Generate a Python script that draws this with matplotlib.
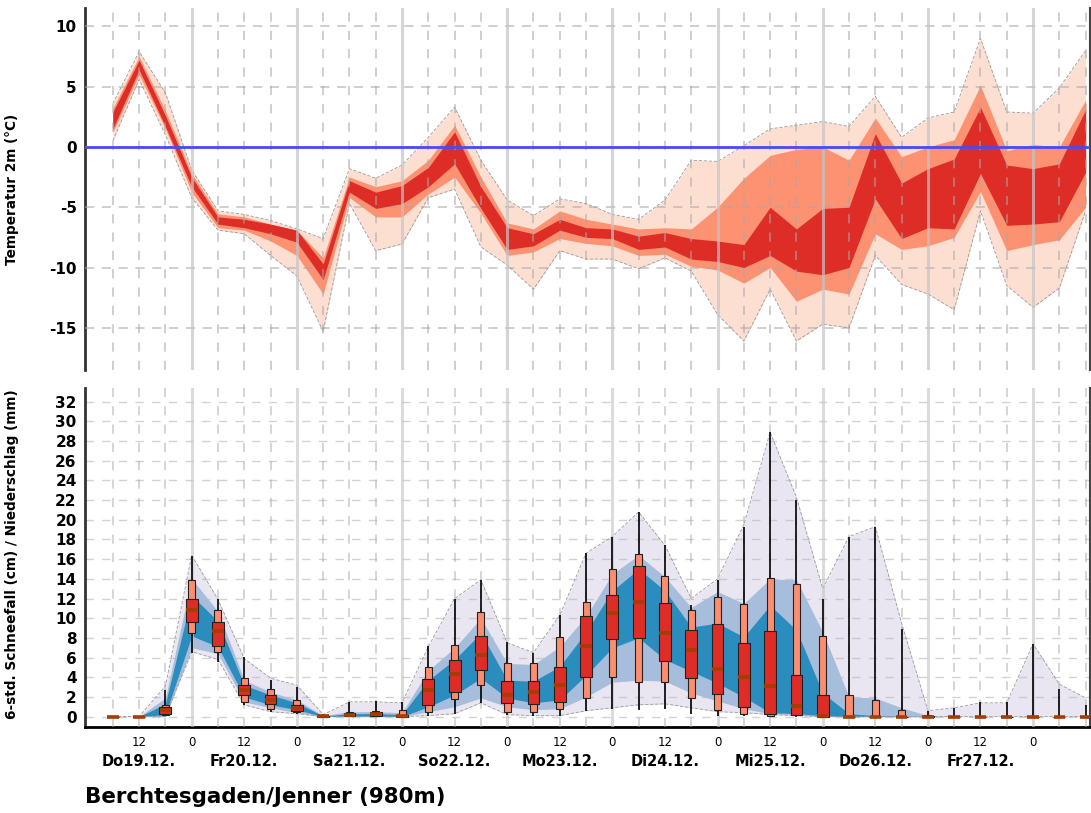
import matplotlib
matplotlib.use("Agg")
import matplotlib.pyplot as plt
import numpy as np

plt.rcParams['font.family'] = ['DejaVu Sans']
plt.rcParams['axes.unicode_minus'] = False

# time axis: hours after Do19.12. 00 UTC, every 6 h
hours = np.array([6, 12, 18, 24, 30, 36, 42, 48, 54, 60, 66, 72, 78, 84, 90, 96,
                  102, 108, 114, 120, 126, 132, 138, 144, 150, 156, 162, 168,
                  174, 180, 186, 192, 198, 204, 210, 216, 222, 228])

# temperature 2m ensemble bands (deg C)
t_light_lo = [0.5, 5.6, 1.0, -4.2, -6.9, -7.2, -9.0, -10.7, -15.3, -4.7, -8.6, -8.05,
              -4.2, -3.5, -8.3, -9.8, -11.8, -8.6, -9.3, -9.3, -10.1, -9.2, -10.3,
              -13.9, -16.1, -11.8, -16.1, -14.7, -15.0, -9.0, -11.4, -12.2, -13.5,
              -5.3, -11.5, -13.3, -11.7, -5.3]
t_light_hi = [3.6, 7.9, 4.5, -1.9, -5.3, -5.6, -6.1, -6.8, -7.6, -1.8, -2.6, -1.5,
              0.8, 3.3, -1.1, -4.4, -5.7, -4.3, -4.7, -5.6, -6.0, -4.4, -1.1,
              -1.2, 0.1, 1.5, 1.8, 2.1, 1.7, 4.2, 0.8, 2.4, 2.9,
              9.0, 2.9, 2.8, 4.9, 8.0]
t_med_lo = [1.2, 6.0, 1.5, -3.75, -6.7, -6.9, -7.8, -9.0, -12.2, -4.2, -5.8, -5.8,
            -3.9, -2.5, -5.5, -9.0, -8.7, -7.6, -8.0, -8.2, -9.0, -8.9, -9.9,
            -10.2, -11.3, -10.0, -12.8, -11.8, -12.2, -7.2, -8.5, -8.2, -7.5,
            -3.7, -8.6, -8.1, -7.7, -5.0]
t_med_hi = [3.2, 7.5, 3.0, -2.2, -5.55, -5.8, -6.4, -6.9, -9.2, -2.5, -3.3, -2.8,
            -1.1, 1.8, -2.5, -6.3, -6.8, -5.3, -6.0, -6.4, -6.8, -6.7, -6.8,
            -5.0, -2.6, -0.7, -0.2, 0.0, -1.1, 2.4, -0.8, 0.0, 0.6,
            5.1, -0.3, 0.2, 0.0, 3.9]
t_dark_lo = [1.5, 6.4, 1.7, -3.3, -6.4, -6.7, -7.2, -7.9, -11.0, -3.75, -5.1, -4.7,
             -3.3, -1.4, -5.1, -8.5, -8.2, -6.9, -7.5, -7.6, -8.5, -8.3, -9.3,
             -9.5, -10.0, -9.0, -10.3, -10.6, -10.0, -4.3, -7.6, -6.7, -6.8,
             -2.2, -6.5, -6.4, -6.2, -2.1]
t_dark_hi = [2.9, 7.2, 2.6, -2.5, -5.8, -6.0, -6.4, -6.9, -9.7, -2.8, -3.75, -3.2,
             -1.7, 1.25, -3.3, -6.7, -7.2, -6.0, -6.7, -6.8, -7.4, -7.1, -7.6,
             -7.8, -8.1, -5.0, -6.8, -5.1, -5.0, 1.1, -3.0, -1.8, -1.0,
             3.3, -1.5, -1.8, -1.4, 3.1]

# 6-h snowfall bands (cm)
s_min = [0, 0, 0, 6.6, 5.8, 1.2, 0.5, 0.3, 0, 0, 0, 0, 0.1, 0.3, 1.4, 0.2, 0.1, 0.1,
         0.6, 0.9, 1.2, 1.3, 0.9, 0.5, 0.4, 0.2, 0.1, 0, 0, 0, 0, 0, 0, 0, 0, 0, 0, 0]
s_max = [0, 0, 3.1, 16.4, 11.9, 5.9, 3.9, 3.2, 0.2, 1.5, 1.5, 1.4, 7.1, 12.0, 13.9,
         7.5, 6.5, 10.3, 16.6, 18.3, 20.8, 17.4, 12.0, 14.0, 19.5, 28.9, 22.3, 13.0,
         18.3, 19.3, 9.5, 0.6, 0.9, 1.4, 1.4, 7.4, 3.3, 1.9]
s_p10 = [0, 0, 0, 7.0, 6.4, 1.5, 0.9, 0.4, 0, 0, 0, 0, 0.5, 1.0, 1.9, 1.0, 0.7, 0.8,
         2.0, 3.5, 3.7, 3.6, 2.4, 1.6, 0.8, 0.3, 0.2, 0, 0, 0, 0, 0, 0, 0, 0, 0, 0, 0]
s_p90 = [0, 0, 1.9, 14.0, 10.7, 3.7, 2.5, 1.7, 0.1, 0.5, 0.5, 0.4, 4.7, 7.0, 10.0,
         5.4, 5.3, 7.1, 10.2, 14.5, 16.4, 14.2, 11.1, 12.7, 11.5, 14.0, 13.9, 8.6,
         2.0, 1.9, 0.9, 0.1, 0, 0, 0, 0, 0, 0]
s_p25 = [0, 0, 0.2, 8.2, 7.1, 2.0, 1.2, 0.7, 0, 0.05, 0.05, 0, 1.0, 2.2, 3.9, 1.9,
         1.4, 1.7, 4.2, 7.0, 8.0, 5.8, 4.6, 3.4, 2.0, 0.4, 0.3, 0.1, 0, 0, 0, 0, 0,
         0, 0, 0, 0, 0]
s_p75 = [0, 0, 1.3, 12.3, 9.7, 3.2, 2.2, 1.4, 0.05, 0.3, 0.3, 0.2, 3.7, 5.8, 8.5,
         3.7, 3.6, 5.1, 8.6, 12.8, 15.0, 12.8, 9.1, 9.5, 8.1, 11.3, 8.8, 2.4, 0.3,
         0.1, 0.05, 0, 0, 0, 0, 0, 0, 0]

# 6-h precipitation (mm) box statistics
p_min = [0, 0, 0.1, 6.5, 5.5, 1.2, 0.5, 0.3, 0, 0, 0, 0, 0.1, 0.3, 1.4, 0.2, 0.1,
         0.1, 0.6, 0.8, 0.7, 0.8, 0.3, 0.1, 0.1, 0, 0, 0, 0, 0, 0, 0, 0, 0, 0, 0, 0, 0]
p_p10 = [0, 0, 0.15, 8.5, 6.6, 1.5, 0.8, 0.5, 0, 0.05, 0.05, 0, 0.5, 1.8, 3.2, 0.5,
         0.5, 0.8, 1.9, 4.0, 3.5, 3.5, 1.9, 0.7, 0.3, 0.1, 0.2, 0, 0, 0, 0, 0, 0, 0,
         0, 0, 0, 0]
p_p25 = [0, 0, 0.3, 9.6, 7.2, 2.2, 1.3, 0.6, 0, 0.1, 0.1, 0, 1.2, 2.5, 4.7, 1.4,
         1.3, 1.5, 4.0, 7.9, 8.0, 5.7, 3.9, 2.3, 1.0, 0.3, 0.2, 0, 0, 0, 0, 0, 0, 0,
         0, 0, 0, 0]
p_med = [0, 0, 0.7, 10.8, 8.7, 2.7, 1.7, 0.9, 0.05, 0.2, 0.3, 0.1, 2.7, 4.3, 6.3,
         2.2, 2.5, 3.2, 7.2, 10.5, 11.6, 8.5, 6.8, 4.8, 4.0, 3.1, 1.1, 0.1, 0, 0, 0,
         0, 0, 0, 0, 0, 0, 0]
p_p75 = [0, 0, 1.0, 12.0, 9.6, 3.2, 2.2, 1.2, 0.1, 0.4, 0.5, 0.2, 3.8, 5.8, 8.2,
         3.6, 3.6, 5.0, 10.2, 12.4, 15.3, 11.5, 8.8, 9.4, 7.5, 8.7, 4.2, 2.2, 0, 0,
         0, 0.1, 0, 0, 0, 0, 0, 0]
p_p90 = [0, 0, 1.2, 13.9, 10.8, 3.9, 2.8, 1.7, 0.15, 0.5, 0.6, 0.7, 5.0, 7.3, 10.6,
         5.4, 5.4, 8.1, 11.6, 15.0, 16.5, 14.3, 10.8, 12.2, 11.4, 14.1, 13.5, 8.2,
         2.2, 1.7, 0.7, 0.2, 0, 0, 0, 0, 0, 0]
p_max = [0, 0, 2.7, 16.3, 12.0, 6.1, 3.7, 3.0, 0.3, 1.5, 1.6, 1.5, 7.2, 12.0, 13.9,
         7.6, 6.5, 10.3, 16.6, 18.3, 20.8, 17.4, 11.3, 13.9, 19.3, 28.9, 22.0, 11.9,
         18.3, 19.3, 8.9, 0.6, 0.9, 1.5, 1.5, 7.4, 2.8, 1.2]

day_names = ['Do19.12.', 'Fr20.12.', 'Sa21.12.', 'So22.12.', 'Mo23.12.',
             'Di24.12.', 'Mi25.12.', 'Do26.12.', 'Fr27.12.']
hour_ticks = [12, 24, 36, 48, 60, 72, 84, 96, 108, 120, 132, 144, 156, 168,
              180, 192, 204, 216]
station = 'Berchtesgaden/Jenner (980m)'

fig = plt.figure(figsize=(10.91, 8.13), dpi=100)
ax1 = fig.add_axes([0.0779, 0.5449, 0.9212, 0.4449])
ax2 = fig.add_axes([0.0779, 0.1062, 0.9212, 0.4162])

xlim = (-0.35, 229.0)


def draw_grid(ax, alpha):
    for h in hours:
        if h % 24 == 0:
            ax.axvline(h, color='#c4c4c4', lw=2.2, zorder=4, alpha=alpha)
        else:
            ax.axvline(h, color='#a8a8a8', lw=1.1, ls=(0, (6, 6)), zorder=4, alpha=alpha)


# --- temperature panel ---
ax1.fill_between(hours, t_light_lo, t_light_hi, color='#fddfd2', lw=0, zorder=1)
ax1.fill_between(hours, t_med_lo, t_med_hi, color='#fc9272', lw=0, zorder=2)
ax1.fill_between(hours, t_dark_lo, t_dark_hi, color='#de2d26', lw=0, zorder=3)
ax1.plot(hours, t_light_hi, color='#999999', lw=0.6, ls=(0, (4, 2)), zorder=3)
ax1.plot(hours, t_light_lo, color='#999999', lw=0.6, ls=(0, (4, 2)), zorder=3)
draw_grid(ax1, 0.7)
ax1.axhline(0, color='#4a4af5', lw=2, zorder=6)
ax1.set_xlim(*xlim)
ax1.set_ylim(-18.5, 11.5)
ax1.set_yticks([-15, -10, -5, 0, 5, 10])
ax1.yaxis.grid(True, color='#a8a8a8', lw=1.1, ls=(0, (6, 5)), alpha=0.7)
ax1.set_axisbelow(False)
for gl in ax1.get_ygridlines():
    gl.set_zorder(4)
ax1.set_xticks([])
ax1.set_ylabel('Temperatur 2m (°C)', fontsize=9.8, fontweight='bold')
ax1.yaxis.set_label_coords(-0.066, 0.5)

# --- precipitation / snow panel ---
ax2.fill_between(hours, s_min, s_max, color='#e9e6f2', lw=0, zorder=1)
ax2.fill_between(hours, s_p10, s_p90, color='#a6bddb', lw=0, zorder=2)
ax2.fill_between(hours, s_p25, s_p75, color='#2b8cbe', lw=0, zorder=3)
ax2.plot(hours, s_max, color='#999999', lw=0.6, ls=(0, (4, 2)), zorder=3)
ax2.plot(hours, s_min, color='#999999', lw=0.6, ls=(0, (4, 2)), zorder=3)
draw_grid(ax2, 0.6)
ax2.yaxis.grid(True, color='#b4b4b4', lw=1.0, ls=(0, (6, 6)), alpha=0.6)
for gl in ax2.get_ygridlines():
    gl.set_zorder(4)

p_p10a, p_p90a = np.array(p_p10), np.array(p_p90)
p_p25a, p_p75a = np.array(p_p25), np.array(p_p75)
ax2.vlines(hours, p_min, p_max, color='black', lw=1.2, zorder=5)
ax2.bar(hours, p_p90a - p_p10a, bottom=p_p10a, width=1.6, color='#fc8d6e',
        edgecolor='#222222', lw=0.8, zorder=6)
ax2.bar(hours, p_p75a - p_p25a, bottom=p_p25a, width=2.7, color='#de2d26',
        edgecolor='#222222', lw=0.8, zorder=7)
ax2.hlines(p_med, hours - 1.3, hours + 1.3, color='#a33d00', lw=2.6, zorder=8)

ax2.set_xlim(*xlim)
ax2.set_ylim(-1.02, 33.36)
ax2.set_yticks(range(0, 33, 2))
ax2.set_xticks(hour_ticks)
ax2.set_xticklabels(['12' if h % 24 else '0' for h in hour_ticks], fontsize=8.5)
for i, name in enumerate(day_names):
    ax2.text(12 + 24 * i, -0.104, name, transform=ax2.get_xaxis_transform(),
             ha='center', va='center', fontsize=10.5, fontweight='bold')
ax2.set_ylabel('6-std. Schneefall (cm) / Niederschlag (mm)', fontsize=9.8,
               fontweight='bold')
ax2.yaxis.set_label_coords(-0.066, 0.51)

for ax in (ax1, ax2):
    ax.tick_params(length=0)
    ax.tick_params(axis='y', pad=6, labelsize=11)
    ax.tick_params(axis='x', pad=7)
    for lab in ax.get_yticklabels():
        lab.set_fontweight('bold')
    ax.spines['top'].set_visible(False)
    ax.spines['left'].set_color('#333333')
    ax.spines['left'].set_linewidth(2)
    ax.spines['right'].set_color('#444444')
    ax.spines['right'].set_linewidth(1.5)
    ax.set_facecolor('white')

ax1.spines['bottom'].set_visible(False)
ax2.spines['bottom'].set_color('black')
ax2.spines['bottom'].set_linewidth(2)

fig.text(85 / 1091, 1 - 797 / 813, station, fontsize=15.4, fontweight='bold',
         ha='left', va='center')

fig.savefig('out.png', dpi=100)
